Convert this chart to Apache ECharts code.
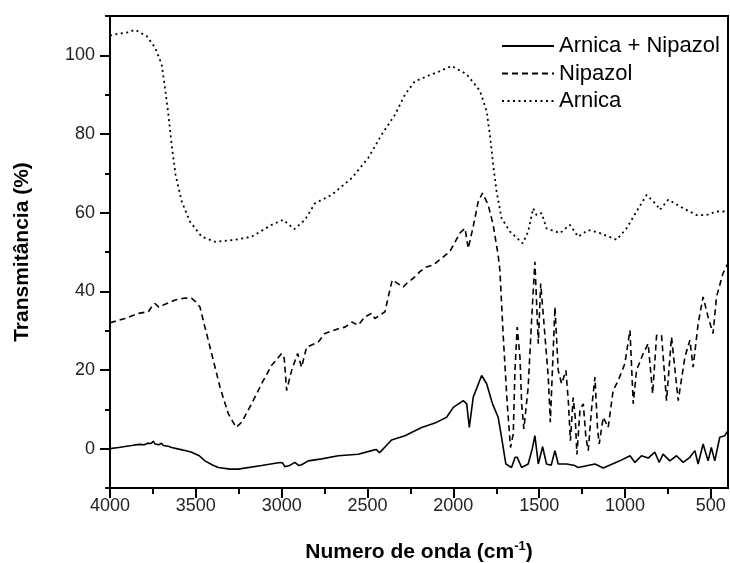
<!DOCTYPE html>
<html>
<head>
<meta charset="utf-8">
<script src="https://cdn.jsdelivr.net/npm/echarts@6/dist/echarts.min.js"></script>
<style>
html,body{margin:0;padding:0;background:#fff;}
#chart{width:730px;height:563px;}
</style>
</head>
<body>
<div id="chart"></div>
<script>
// ---- data (wavenumber in cm-1, transmittance in %) ----
const seriesNames = ['Arnica + Nipazol', 'Nipazol', 'Arnica'];

const mixWn = [4000, 3950, 3874, 3830, 3800, 3780, 3760, 3748, 3738, 3730, 3715, 3700, 3690, 3680, 3660, 3641, 3580, 3524, 3480, 3447, 3400, 3369, 3300, 3253, 3117, 3010, 2995, 2981, 2950, 2923, 2900, 2884, 2845, 2767, 2670, 2554, 2476, 2450, 2430, 2418, 2390, 2360, 2282, 2185, 2107, 2039, 2000, 1942, 1922, 1907, 1884, 1835, 1806, 1777, 1768, 1739, 1719, 1694, 1661, 1640, 1628, 1602, 1564, 1540, 1525, 1505, 1480, 1457, 1430, 1408, 1389, 1340, 1292, 1273, 1175, 1127, 1030, 971, 942, 904, 865, 826, 801, 778, 739, 700, 661, 622, 593, 574, 545, 516, 497, 477, 448, 419, 400];
const mixVal = [0, 0.3, 0.8, 1.1, 1.0, 1.4, 1.3, 1.9, 1.2, 1.6, 1.0, 1.4, 0.8, 1.0, 0.6, 0.3, -0.3, -0.9, -1.8, -3.1, -4.2, -4.8, -5.2, -5.2, -4.3, -3.5, -3.6, -4.6, -4.2, -3.5, -4.3, -4.1, -3.1, -2.6, -1.8, -1.4, -0.5, -0.2, -1.0, -0.5, 0.8, 2.2, 3.3, 5.4, 6.5, 8.0, 10.5, 12.2, 11.4, 5.4, 13.1, 18.6, 16.5, 12.2, 11.0, 8.0, 2.9, -3.9, -4.8, -2.2, -2.2, -4.8, -3.9, 0.0, 3.3, -3.9, 0.5, -3.9, -4.2, -0.5, -3.9, -3.9, -4.3, -4.8, -3.9, -4.9, -3.1, -1.8, -3.5, -1.8, -2.4, -0.9, -3.5, -1.4, -3.1, -1.8, -3.5, -2.2, -0.5, -3.9, 1.2, -3.1, 0.3, -3.1, 2.9, 3.3, 4.6];

const nipWn = [4000, 3913, 3835, 3777, 3750, 3738, 3715, 3689, 3621, 3560, 3524, 3500, 3476, 3447, 3408, 3359, 3311, 3266, 3233, 3175, 3117, 3058, 3000, 2985, 2971, 2942, 2907, 2884, 2855, 2787, 2748, 2670, 2631, 2592, 2554, 2515, 2476, 2457, 2398, 2379, 2356, 2292, 2272, 2224, 2195, 2156, 2117, 2020, 1962, 1932, 1913, 1903, 1884, 1855, 1830, 1797, 1768, 1739, 1729, 1709, 1686, 1667, 1651, 1641, 1628, 1612, 1602, 1589, 1564, 1544, 1525, 1505, 1491, 1472, 1447, 1435, 1408, 1389, 1369, 1344, 1330, 1318, 1302, 1290, 1280, 1262, 1243, 1228, 1214, 1195, 1175, 1160, 1150, 1127, 1098, 1069, 1040, 1001, 971, 952, 933, 894, 865, 839, 816, 787, 758, 729, 690, 651, 622, 603, 574, 545, 516, 487, 467, 429, 400];
const nipVal = [32, 33.1, 34.4, 34.8, 36.5, 36.9, 36.0, 36.5, 37.8, 38.3, 38.2, 37.3, 36.0, 30.9, 24.2, 15.6, 8.9, 5.4, 6.7, 11.4, 16.5, 21.2, 24.2, 23.0, 14.8, 19.9, 24.2, 20.7, 25.8, 27.1, 29.3, 30.5, 30.9, 32.2, 31.4, 33.5, 34.4, 33.1, 34.8, 38.6, 42.9, 41.1, 42.0, 43.7, 45.0, 46.2, 46.7, 50.1, 54.8, 56.0, 50.9, 50.5, 56.5, 62.8, 65.0, 62.0, 56.9, 49.2, 45.4, 28.4, 11.4, 0.3, 3.7, 19.9, 30.9, 23.3, 11.4, 5.0, 15.6, 32.7, 47.5, 26.7, 42.0, 31.8, 18.2, 6.7, 36.0, 19.9, 16.5, 19.9, 12.0, 2.0, 13.0, 8.0, -1.5, 10.0, 11.4, 3.0, -0.5, 10.0, 18.2, 5.0, 1.2, 8.0, 5.4, 14.8, 17.3, 21.6, 30.1, 11.4, 19.9, 24.2, 26.7, 14.0, 28.8, 28.8, 12.2, 28.4, 12.2, 23.3, 27.6, 20.7, 31.8, 38.6, 33.5, 29.3, 38.6, 44.6, 47.1];

const arnWn = [4000, 3961, 3900, 3854, 3786, 3738, 3699, 3680, 3660, 3641, 3618, 3582, 3534, 3466, 3388, 3272, 3175, 3058, 2991, 2927, 2864, 2806, 2709, 2592, 2496, 2418, 2340, 2282, 2224, 2195, 2127, 2097, 2010, 1923, 1845, 1806, 1787, 1768, 1748, 1719, 1670, 1596, 1564, 1535, 1515, 1486, 1457, 1379, 1321, 1273, 1214, 1146, 1049, 991, 933, 874, 816, 797, 748, 661, 583, 525, 467, 400];
const arnVal = [105, 105.4, 105.8, 106.5, 104.9, 102, 97.7, 91.8, 85, 77.3, 69.6, 62.8, 57.7, 53.9, 52.6, 53.1, 53.9, 56.9, 58.2, 55.8, 58.2, 62.4, 64.5, 68.8, 73.9, 79.8, 84.9, 90, 93.4, 93.9, 95.2, 95.6, 97.3, 95.2, 91, 85.8, 79.8, 72.2, 65.4, 58.6, 55.2, 52.2, 55.2, 61.1, 59.4, 59.9, 56, 54.8, 56.9, 53.9, 55.6, 54.8, 53.1, 56, 60.3, 64.5, 62, 60.7, 63.3, 61.1, 59.4, 59.4, 60.3, 60.3];

const xTicks = [4000, 3500, 3000, 2500, 2000, 1500, 1000, 500];
const xMinorTicks = [3750, 3250, 2750, 2250, 1750, 1250, 750];
const yTicks = [0, 20, 40, 60, 80, 100];
const yMinorTicks = [-10, 10, 30, 50, 70, 90, 110];

// ---- chart ----
const pair = (w, v) => w.map((x, i) => [x, v[i]]);
const chart = echarts.init(document.getElementById('chart'), null, {renderer: 'canvas'});
const labelFont = {fontFamily: 'Arial, "Liberation Sans", sans-serif', fontSize: 18, color: '#222', formatter: v => String(v)};
const xBase = {type: 'value', inverse: true, min: 400, max: 4000, position: 'bottom', splitLine: {show: false}};
const yBase = {type: 'value', min: -10, max: 110, position: 'left', splitLine: {show: false}};

chart.setOption({
  animation: false,
  backgroundColor: '#fff',
  grid: {left: 110, right: 2, top: 16, bottom: 75, show: true, borderColor: '#000', borderWidth: 2,
    containLabel: false, outerBoundsMode: 'none'},
  legend: {
    orient: 'vertical', left: 496, top: 29, itemWidth: 52, itemHeight: 14, itemGap: 3.5,
    data: seriesNames,
    itemStyle: {opacity: 0},
    textStyle: {fontFamily: 'Arial, "Liberation Sans", sans-serif', fontSize: 22, lineHeight: 24, color: '#000'}
  },
  xAxis: [
    Object.assign({}, xBase, {
      axisLine: {onZero: false, lineStyle: {color: '#000', width: 2}},
      axisTick: {customValues: xTicks, length: 10, lineStyle: {color: '#000', width: 2}},
      axisLabel: Object.assign({customValues: xTicks, margin: 9}, labelFont),
      name: '{a|Numero de onda (cm}{s|-1}{a|)}',
      nameLocation: 'middle', nameGap: 52,
      nameTextStyle: {
        rich: {
          a: {fontFamily: 'Arial, "Liberation Sans", sans-serif', fontSize: 21, fontWeight: 'bold', color: '#000', lineHeight: 24},
          s: {fontFamily: 'Arial, "Liberation Sans", sans-serif', fontSize: 13, fontWeight: 'bold', color: '#000', lineHeight: 13, verticalAlign: 'top'}
        }
      }
    }),
    Object.assign({}, xBase, {
      axisLine: {show: false, onZero: false},
      axisTick: {customValues: xMinorTicks, length: 6, lineStyle: {color: '#000', width: 2}},
      axisLabel: {show: false}
    })
  ],
  yAxis: [
    Object.assign({}, yBase, {
      axisLine: {onZero: false, lineStyle: {color: '#000', width: 2}},
      axisTick: {customValues: yTicks, length: 10, lineStyle: {color: '#000', width: 2}},
      axisLabel: Object.assign({customValues: yTicks, margin: 15}, labelFont),
      name: 'Transmitância (%)',
      nameLocation: 'middle', nameGap: 77, nameRotate: 90,
      nameTextStyle: {fontFamily: 'Arial, "Liberation Sans", sans-serif', fontSize: 21, fontWeight: 'bold', color: '#000'}
    }),
    Object.assign({}, yBase, {
      axisLine: {show: false, onZero: false},
      axisTick: {customValues: yMinorTicks, length: 5, lineStyle: {color: '#000', width: 2}},
      axisLabel: {show: false}
    })
  ],
  series: [
    {name: seriesNames[0], type: 'line', xAxisIndex: 0, yAxisIndex: 0, symbol: 'none', data: pair(mixWn, mixVal),
      lineStyle: {color: '#000', width: 1.6, type: 'solid'}, itemStyle: {color: '#000'}},
    {name: seriesNames[1], type: 'line', xAxisIndex: 0, yAxisIndex: 0, symbol: 'none', data: pair(nipWn, nipVal),
      lineStyle: {color: '#000', width: 1.6, type: [6, 4]}, itemStyle: {color: '#000'}},
    {name: seriesNames[2], type: 'line', xAxisIndex: 0, yAxisIndex: 0, symbol: 'none', data: pair(arnWn, arnVal),
      lineStyle: {color: '#000', width: 1.8, type: [2, 3.5]}, itemStyle: {color: '#000'}}
  ]
});
</script>
</body>
</html>
